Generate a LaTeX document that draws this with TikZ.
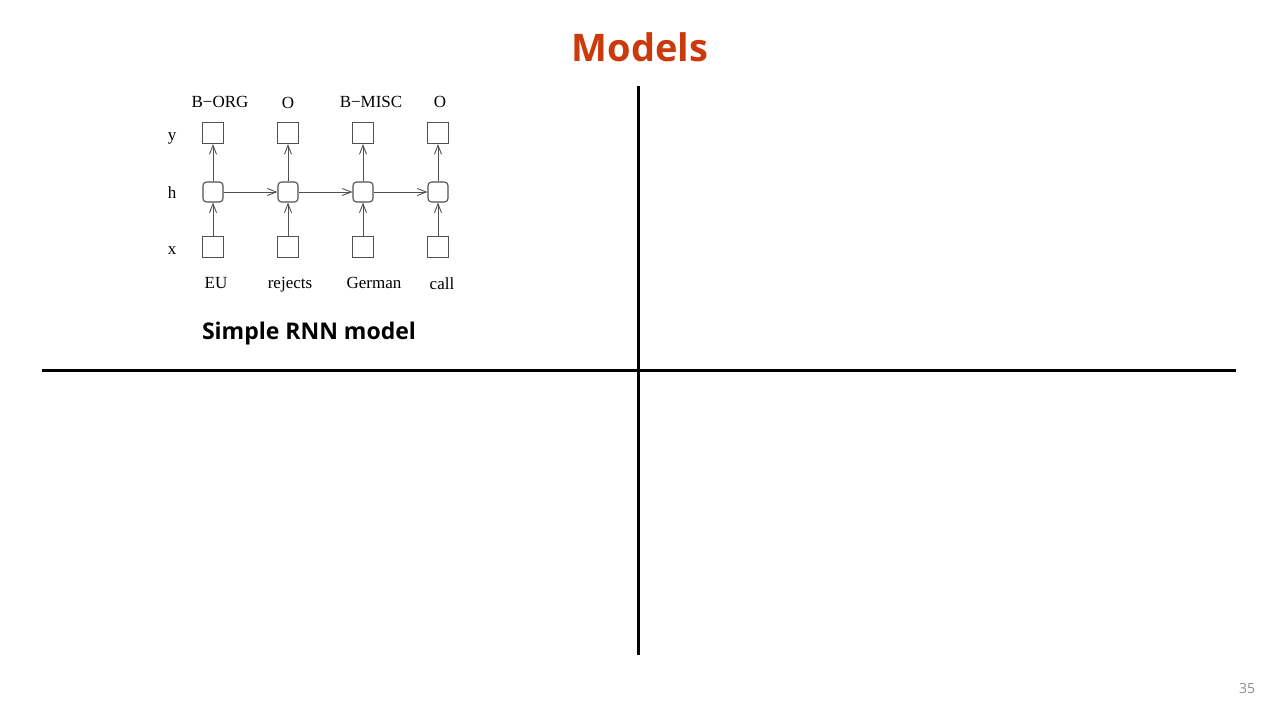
\documentclass[tikz,border=0pt]{standalone}
\usepackage{fontspec}
\setmainfont{Liberation Serif}
\newfontfamily\slidefont{Open Sans}
\usetikzlibrary{arrows.meta}
\definecolor{titlered}{RGB}{204,57,10}
\definecolor{pagegray}{RGB}{140,140,140}
\definecolor{netgray}{RGB}{80,80,80}
\tikzset{
  sqbox/.style={draw=netgray, line width=1.1pt, minimum size=21pt, inner sep=0pt},
  hbox/.style={draw=netgray, line width=1.1pt, minimum size=20pt, inner sep=0pt, rounded corners=3.5pt},
  conn/.style={draw=netgray, line width=1pt, -{Straight Barb[length=9pt,width=7pt,line width=0.9pt]}},
  lbl/.style={font=\fontsize{17}{19}\selectfont, inner sep=0pt},
  divider/.style={line width=3pt, black},
}
\begin{document}
\begin{tikzpicture}[x=1pt,y=-1pt]
\useasboundingbox (0,0) rectangle (1280,720);
% title
\node[text=titlered, font=\slidefont\bfseries\fontsize{38}{44}\selectfont] (title) at (640,47) {Models};
% dividers
\coordinate (vtop) at (638,86);
\coordinate (vbot) at (638,655);
\coordinate (hl) at (42,370);
\coordinate (hr) at (1236,370);
\draw[divider] (vtop) -- (vbot);
\draw[divider] (hl) -- (hr);
% row labels
\node[lbl, anchor=base] (ly) at (172,140) {y};
\node[lbl, anchor=base] (lh) at (172,198) {h};
\node[lbl, anchor=base] (lx) at (172,254) {x};
% columns
\foreach \i/\cx in {1/213,2/288,3/363,4/438}{
  \node[sqbox] (y\i) at (\cx,133) {};
  \node[hbox] (h\i) at (\cx,192) {};
  \node[sqbox] (x\i) at (\cx,247) {};
  \draw[conn] (x\i) -- (h\i);
  \draw[conn] (h\i) -- (y\i);
}
\draw[conn] (h1) -- (h2);
\draw[conn] (h2) -- (h3);
\draw[conn] (h3) -- (h4);
% top labels
\node[lbl] (t1) at (220,102) {B\textminus ORG};
\node[lbl] (t2) at (288,103) {O};
\node[lbl] (t3) at (371,102) {B\textminus MISC};
\node[lbl] (t4) at (440,102) {O};
% bottom labels
\node[lbl, anchor=base] (b1) at (216,288) {EU};
\node[lbl, anchor=base] (b2) at (290,288) {rejects};
\node[lbl, anchor=base] (b3) at (374,288) {German};
\node[lbl, anchor=base] (b4) at (442,289) {call};
% caption
\node[font=\slidefont\bfseries\fontsize{23}{26}\selectfont] (cap) at (309,334) {Simple RNN model};
% page number
\node[text=pagegray, font=\slidefont\fontsize{14}{16}\selectfont] (pg) at (1247,688) {35};
\end{tikzpicture}
\end{document}
